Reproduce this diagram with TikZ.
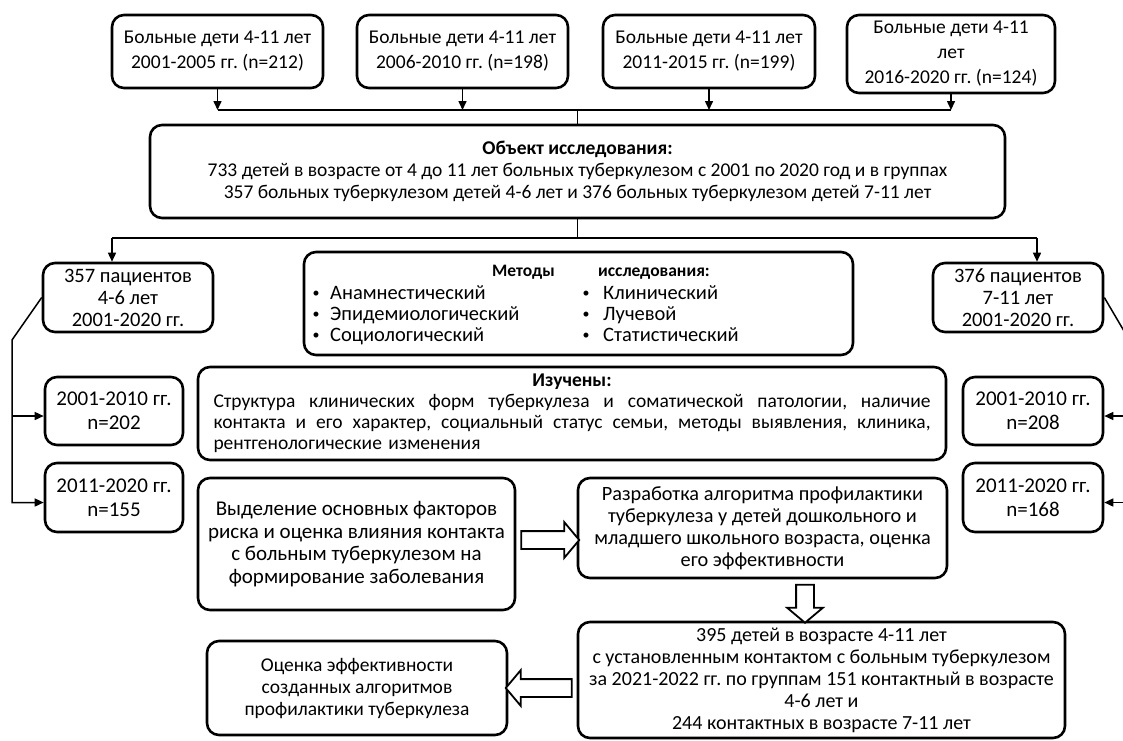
\documentclass[tikz,border=0pt]{standalone}
\usepackage{fontspec}
\setmainfont{Carlito}
\usetikzlibrary{arrows.meta,shapes.arrows,calc}
\frenchspacing
\begin{document}
\begin{tikzpicture}[x=1pt,y=-1pt,
  box/.style={draw, line width=2.6pt, rounded corners=12pt, align=center, inner sep=0pt,
    font=\fontsize{20}{22}\selectfont},
  topbox/.style={box, font=\fontsize{19.5}{25}\selectfont},
  txt/.style={inner sep=0pt, font=\fontsize{20.5}{22}\selectfont},
  ttl/.style={inner sep=0pt, font=\fontsize{17.5}{20}\selectfont\bfseries},
  bul/.style={inner sep=0pt, font=\fontsize{14}{16}\selectfont},
  conn/.style={line width=1.5pt},
  arr/.style={conn, -{Triangle[length=9pt,width=8pt]}},
  harrow/.style={single arrow, draw, fill=white, line width=1.8pt, inner xsep=0pt, inner ysep=8pt,
    single arrow head extend=9pt, single arrow tip angle=100}
]
\clip (0,0) rectangle (1123,740);
\fill[white] (0,0) rectangle (1123,740);

% top boxes
\node[topbox, minimum width=211pt, minimum height=73pt] (b1) at (217.5,51.5) {Больные дети 4-11 лет\\2001-2005 гг. (n=212)};
\node[topbox, minimum width=211pt, minimum height=73pt] (b2) at (462.5,51.5) {Больные дети 4-11 лет\\2006-2010 гг. (n=198)};
\node[topbox, minimum width=212pt, minimum height=73pt] (b3) at (709,51.5) {Больные дети 4-11 лет\\2011-2015 гг. (n=199)};
\node[topbox, minimum width=208pt, minimum height=78pt] (b4) at (951,54) {Больные дети 4-11\\лет\\2016-2020 гг. (n=124)};

\node[box, minimum width=855pt, minimum height=93pt, font=\fontsize{19.5}{22}\selectfont] (obj) at (577.5,171.5)
  {\textbf{Объект исследования:}\\733 детей в возрасте от 4 до 11 лет больных туберкулезом с 2001 по 2020 год и в группах\\357 больных туберкулезом детей 4-6 лет и 376 больных туберкулезом детей 7-11 лет};

\node[box, minimum width=170pt, minimum height=69pt, font=\fontsize{20.5}{22}\selectfont] (p357) at (128,297.5) {357 пациентов\\4-6 лет\\2001-2020 гг.};
\node[box, minimum width=170pt, minimum height=69pt, font=\fontsize{20.5}{22}\selectfont] (p376) at (1018,297.5) {376 пациентов\\7-11 лет\\2001-2020 гг.};

% methods
\node[box, minimum width=549pt, minimum height=103pt] (meth) at (578.5,303.5) {};
\node[ttl, anchor=base east] (mt1) at (555,276) {Методы};
\node[ttl, anchor=base west] (mt2) at (598,276) {исследования:};
\foreach \t/\y [count=\i] in {Анамнестический/299, Эпидемиологический/320, Социологический/341}{
  \node[bul, anchor=base] (mbl\i) at (316,\y-2) {•};
  \node[txt, anchor=base west] (ml\i) at (330,\y) {\t};
}
\foreach \t/\y [count=\i] in {Клинический/299, Лучевой/320, Статистический/341}{
  \node[bul, anchor=base] (mbr\i) at (586,\y-2) {•};
  \node[txt, anchor=base west] (mr\i) at (603,\y) {\t};
}

% studied
\node[box, minimum width=748pt, minimum height=93pt, text width=717pt, align=left, font=\fontsize{19.5}{21}\selectfont] (izu) at (572,413.5)
  {\makebox[717pt]{\textbf{Изучены:}}\\
   {\spaceskip=0.25em plus 1fil\makebox[717pt][s]{Структура клинических форм туберкулеза и соматической патологии, наличие}}\\
   {\spaceskip=0.25em plus 1fil\makebox[717pt][s]{контакта и его характер, социальный статус семьи, методы выявления, клиника,}}\\
   \makebox[717pt][l]{рентгенологические изменения}};

\node[box, minimum width=138pt, minimum height=68pt, font=\fontsize{21}{24}\selectfont] (l1) at (114,411) {2001-2010 гг.\\n=202};
\node[box, minimum width=138pt, minimum height=69pt, font=\fontsize{21}{24}\selectfont] (l2) at (114,497.5) {2011-2020 гг.\\n=155};
\node[box, minimum width=140pt, minimum height=68pt, font=\fontsize{21}{24}\selectfont] (r1) at (1033,411) {2001-2010 гг.\\n=208};
\node[box, minimum width=140pt, minimum height=69pt, font=\fontsize{21}{24}\selectfont] (r2) at (1033,497.5) {2011-2020 гг.\\n=168};

\node[box, minimum width=317pt, minimum height=132pt, font=\fontsize{21}{22.5}\selectfont] (vyd) at (356.5,544)
  {Выделение основных факторов\\риска и оценка влияния контакта\\с больным туберкулезом на\\формирование заболевания};
\node[box, minimum width=369pt, minimum height=100pt, font=\fontsize{20.3}{22}\selectfont] (razr) at (762.5,528)
  {Разработка алгоритма профилактики\\туберкулеза у детей дошкольного и\\младшего школьного возраста, оценка\\его эффективности};
\node[box, minimum width=487pt, minimum height=116pt] (b395) at (821.5,680)
  {395 детей в возрасте 4-11 лет\\с установленным контактом с больным туберкулезом\\за 2021-2022 гг. по группам 151 контактный в возрасте\\4-6 лет и\\244 контактных в возрасте 7-11 лет};
\node[box, minimum width=300pt, minimum height=94pt, font=\fontsize{19.5}{22}\selectfont] (oc) at (357,688)
  {Оценка эффективности\\созданных алгоритмов\\профилактики туберкулеза};

% top bus
\coordinate (bus) at (0,110);
\foreach \b in {b1,b2,b3,b4}{ \draw[arr] (\b.south) -- (\b.south |- bus); }
\draw[conn] (b1.south |- bus) -- (b4.south |- bus);
\draw[conn] (obj.north) -- (obj.north |- bus);

% lower bus
\coordinate (lt) at (112,238);
\coordinate (rt) at (1037,238);
\draw[conn] (obj.south) -- (obj.south |- lt);
\draw[conn] (lt) -- (rt);
\draw[arr] (lt) -- (lt |- p357.north);
\draw[arr] (rt) -- (rt |- p376.north);

% left branch
\coordinate (lk) at (12,340);
\coordinate (l1a) at ($(l1.west)+(0,5)$);
\coordinate (l2a) at ($(l2.west)+(0,5)$);
\draw[arr] (p357.west) -- (lk) -- (lk |- l2a) -- (l2a);
\draw[arr] (lk |- l1a) -- (l1a);

% right branch
\coordinate (rk) at (1134,348);
\coordinate (r1a) at ($(r1.east)+(0,5)$);
\coordinate (r2a) at ($(r2.east)+(0,5)$);
\draw[conn] (p376.east) -- (rk) -- (rk |- r2a);
\draw[arr] (rk |- r1a) -- (r1a);
\draw[arr] (rk |- r2a) -- (r2a);

% block arrows
\coordinate (ha1) at ($(vyd.east)+(0,-4)$);
\path (ha1) -- (ha1 -| razr.west) node[midway, harrow, minimum height=58pt] (ba1) {};
\coordinate (va1) at ($(razr.south)+(42.5,0)$);
\path (va1) -- (va1 |- b395.north) node[midway, harrow, rotate=270, minimum height=38pt] (ba2) {};
\coordinate (ha2) at (b395.west |- oc.east);
\path (ha2) -- (oc.east) node[midway, harrow, rotate=180, minimum height=66pt] (ba3) {};
\end{tikzpicture}
\end{document}
